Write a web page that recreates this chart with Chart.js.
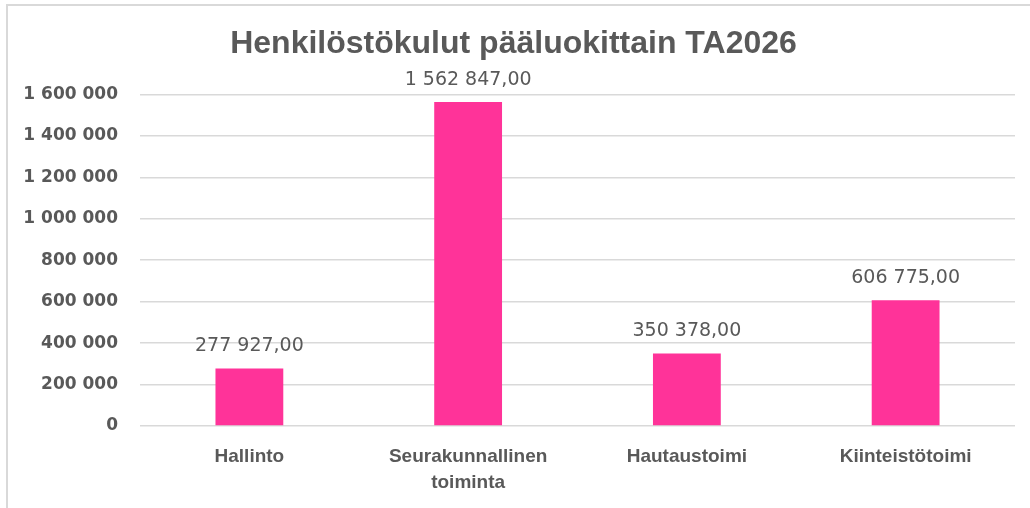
<!DOCTYPE html>
<html>
<head>
<meta charset="utf-8">
<script src="https://cdn.jsdelivr.net/npm/chart.js@4/dist/chart.umd.min.js"></script>
<style>
    html, body { margin: 0; padding: 0; background: #fff; }
    #frame {
        position: absolute; left: 6px; top: 4px; width: 1040px; height: 520px;
        border-left: 2px solid #d9d9d9; border-top: 2px solid #d9d9d9;
    }
    #wrap { position: absolute; left: 0; top: 0; width: 1030px; height: 508px; }
</style>
</head>
<body>
<div id="frame"></div>
<div id="wrap"><canvas id="chart-canvas" width="1030" height="508"></canvas></div>
<script>
const chart_title = "Henkilöstökulut pääluokittain TA2026"
const categories = ["Hallinto", ["Seurakunnallinen", "toiminta"], "Hautaustoimi", "Kiinteistötoimi"]
const values = [277927.00, 1562847.00, 350378.00, 606775.00]
const y_max = 1600000
const y_step = 200000

const text_color = "#595959"
const bar_color = "#ff3399"

// 1 600 000 style grouping with spaces
function groupThousands(n){
    return String(n).replace(/\B(?=(\d{3})+(?!\d))/g, " ")
}

function formatValue(v){
    const parts = v.toFixed(2).split(".")
    return groupThousands(parts[0]) + "," + parts[1]
}

const valueLabels = {
    id: "valueLabels",
    afterDatasetsDraw(chart){
        const ctx = chart.ctx
        const meta = chart.getDatasetMeta(0)
        ctx.save()
        ctx.font = "19px 'DejaVu Sans'"
        ctx.fillStyle = text_color
        ctx.textAlign = "center"
        ctx.textBaseline = "middle"
        meta.data.forEach(function(bar, i){
            ctx.fillText(formatValue(values[i]), bar.x, bar.y - 22)
        })
        ctx.restore()
    }
}

new Chart(document.getElementById("chart-canvas"), {
    type: "bar",
    data: {
        labels: categories,
        datasets: [{
            data: values,
            backgroundColor: bar_color,
            categoryPercentage: 1,
            barPercentage: 0.31
        }]
    },
    options: {
        responsive: false,
        animation: false,
        layout: { padding: { left: 12, right: 15, top: 0, bottom: 0 } },
        plugins: {
            legend: { display: false },
            tooltip: { enabled: false },
            title: {
                display: true,
                text: chart_title,
                color: text_color,
                font: { family: "'Liberation Sans'", size: 32, weight: "bold", lineHeight: 1.2 },
                padding: { top: 25, bottom: 31 }
            }
        },
        scales: {
            x: {
                grid: { display: false, drawTicks: false },
                border: { display: false },
                ticks: {
                    color: text_color,
                    font: { family: "'Liberation Sans'", size: 19, weight: "bold", lineHeight: 1.35 },
                    padding: 18,
                    maxRotation: 0
                },
                afterFit: function(scale){ scale.height = 82 }
            },
            y: {
                min: 0,
                max: y_max,
                grid: { color: "#d9d9d9", lineWidth: 1.5, drawTicks: false },
                border: { display: false },
                ticks: {
                    stepSize: y_step,
                    color: text_color,
                    font: { family: "'DejaVu Sans'", size: 17, weight: "bold" },
                    padding: 22,
                    callback: function(v){ return groupThousands(v) }
                },
                afterFit: function(scale){ scale.width = 128 }
            }
        }
    },
    plugins: [valueLabels]
});
</script>
</body>
</html>
